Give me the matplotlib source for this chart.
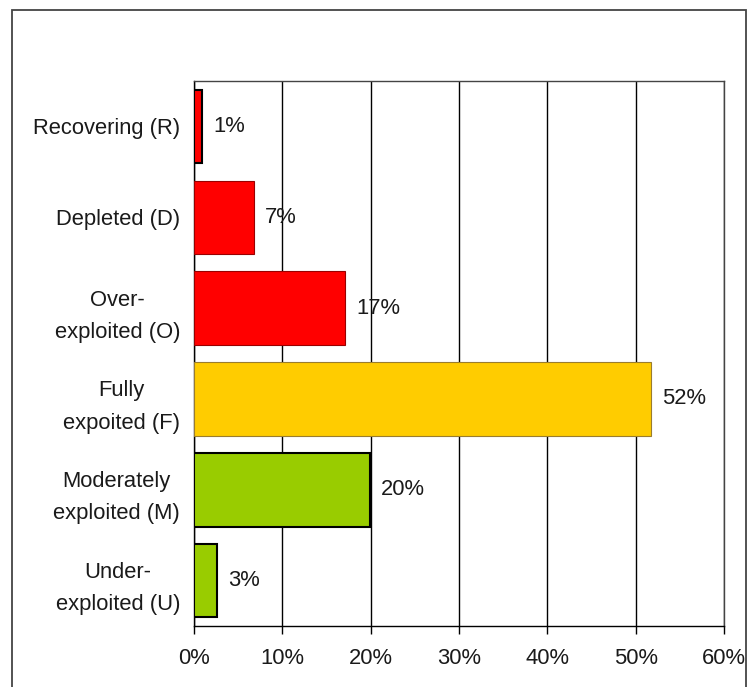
import matplotlib
matplotlib.use('Agg')
import matplotlib.pyplot as plt
from matplotlib.patches import Rectangle

plt.rcParams['font.family'] = ['Liberation Sans', 'DejaVu Sans']

# stock status categories, top to bottom
categories = ['Recovering (R)', 'Depleted (D)', 'Over-\nexploited (O)',
              'Fully\nexpoited (F)', 'Moderately\nexploited (M)', 'Under-\nexploited (U)']
shares = [0.9, 6.8, 17.1, 51.7, 19.9, 2.6]
share_labels = ['1%', '7%', '17%', '52%', '20%', '3%']
bar_colors = ['#ff0000', '#ff0000', '#ff0000', '#ffcc00', '#99cc00', '#99cc00']
edge_colors = ['#000000', '#990000', '#990000', '#9a7d2e', '#000000', '#000000']
edge_widths = [1.5, 0.8, 0.8, 0.8, 1.5, 1.5]
x_ticks = [0, 10, 20, 30, 40, 50, 60]

fs = 15.8
txt = '#1a1a1a'

fig = plt.figure(figsize=(7.49, 6.87), dpi=100)
ax = fig.add_axes([0.259, 0.0888, 0.7075, 0.7932])

pos = list(range(len(categories)))[::-1]
ax.barh(pos, shares, height=0.81, color=bar_colors, edgecolor=edge_colors,
        linewidth=edge_widths, zorder=3)

for p, v, lab in zip(pos, shares, share_labels):
    ax.annotate(lab, (v, p), xytext=(11, 0), textcoords='offset pixels',
                ha='left', va='center', fontsize=fs, color=txt)

ax.set_xlim(0, 60)
ax.set_ylim(-0.5, len(categories) - 0.5)
ax.set_xticks(x_ticks)
ax.set_xticklabels([f'{t}%' for t in x_ticks], fontsize=fs, color=txt)
ax.set_yticks(pos)
ax.set_yticklabels(categories, fontsize=fs, color=txt, multialignment='center',
                   linespacing=1.7)
ax.tick_params(axis='y', length=0, pad=10)
ax.tick_params(axis='x', length=6, width=1, direction='out', pad=10)
ax.xaxis.grid(True, color='black', linewidth=1, zorder=0)
for s in ax.spines.values():
    s.set_color('black')
    s.set_linewidth(1)
ax.spines['right'].set_color('#444444')
ax.spines['top'].set_color('#444444')

# outer frame around the chart
fig.patches.append(Rectangle((12 / 749, -0.05), (746 - 12) / 749, 1.05 - 10 / 687,
                             transform=fig.transFigure, fill=False,
                             edgecolor='#444444', linewidth=1.3))

fig.savefig('out.png', dpi=100)
plt.close('all')
